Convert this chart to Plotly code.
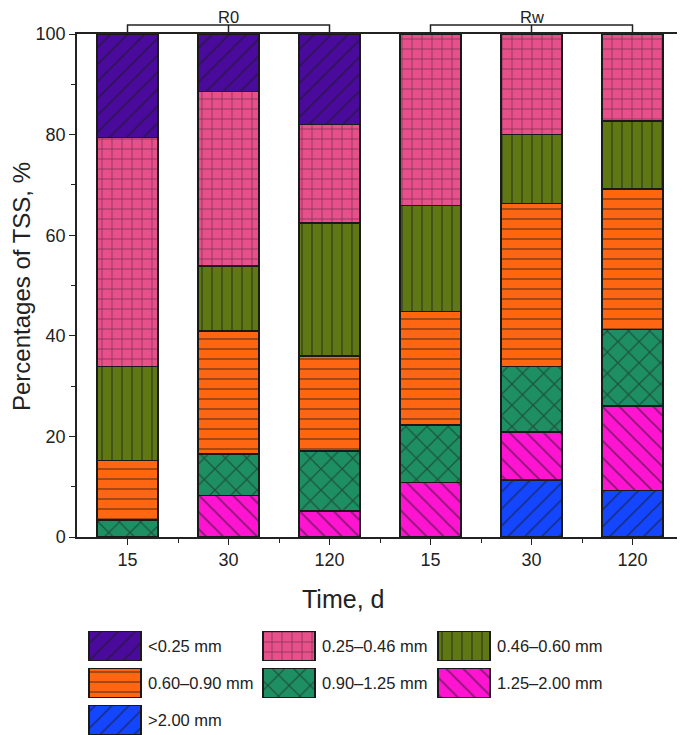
import plotly.graph_objects as go

# bars: R0 15/30/120, Rw 15/30/120
time_labels = ["15", "30", "120", "15", "30", "120"]
groups = ["R0", "Rw"]

# segment percentages per size class (bottom -> top of stack)
gt_200 = [0, 0, 0, 0, 11.3, 9.2]
s125_200 = [0, 8.3, 5.2, 10.8, 9.6, 16.8]
s090_125 = [3.4, 8.2, 11.9, 11.5, 13.0, 15.3]
s060_090 = [11.8, 24.5, 18.9, 22.5, 32.4, 27.9]
s046_060 = [18.7, 12.9, 26.4, 21.1, 13.7, 13.5]
s025_046 = [45.5, 34.7, 19.6, 34.1, 20.0, 17.3]
lt_025 = [20.6, 11.3, 17.9, 0, 0, 0]

classes = [
    # name, values, color, pattern shape, pattern size
    (">2.00 mm", gt_200, "#1446FF", "/", 12),
    ("1.25\u20132.00 mm", s125_200, "#FF14D2", "\\", 12),
    ("0.90\u20131.25 mm", s090_125, "#1E8F63", "x", 15),
    ("0.60\u20130.90 mm", s060_090, "#FF6611", "-", 10),
    ("0.46\u20130.60 mm", s046_060, "#5F7814", "|", 10),
    ("0.25\u20130.46 mm", s025_046, "#E8508C", "+", 10),
    ("<0.25 mm", lt_025, "#4A0A9C", "/", 12),
]
# legend order, row by row
legend_order = ["<0.25 mm", "0.25\u20130.46 mm", "0.46\u20130.60 mm",
                "0.60\u20130.90 mm", "0.90\u20131.25 mm", "1.25\u20132.00 mm",
                ">2.00 mm"]

# page has an 8px body margin, so the figure is a bit smaller than the window
OFF = 8
W, H = 685 - OFF, 735 - OFF
ml, mr, mt, mb = 77 - OFF, 2, 34 - OFF, 0
ph = H - mt - mb
pw = W - ml - mr
y_bottom = 537 - OFF          # zero line of the main axis (figure px)
main_dom = (H - y_bottom) / ph

def fx(sx):   # screen x -> figure px
    return sx - OFF

def fy(sy):
    return sy - OFF

def py(sy):   # screen y -> paper fraction
    return (H - mb - fy(sy)) / ph

def px(sx):
    return (fx(sx) - ml) / pw

def pat(shape, size, color):
    return dict(shape=shape, size=size, solidity=0.16, fgcolor="#1a1a1a",
                bgcolor=color, fillmode="overlay")

fig = go.Figure()
x_pos = list(range(len(time_labels)))
for name, vals, color, shape, size in classes:
    fig.add_trace(go.Bar(
        x=x_pos, y=vals, name=name, width=0.6,
        marker=dict(color=color, pattern=pat(shape, size, color),
                    line=dict(color="#1a1a1a", width=1.5)),
        showlegend=False, xaxis="x", yaxis="y"))

# legend drawn as swatches on a pixel-scaled helper axis
sw_w, sw_h = 52, 29
col_x = [89, 263, 438]
row_y = [646, 683, 720]
style = {c[0]: c for c in classes}
annotations = []
for i, name in enumerate(legend_order):
    _, _, color, shape, size = style[name]
    cx, ry = fx(col_x[i % 3]), fy(row_y[i // 3])
    fig.add_trace(go.Bar(
        y=[ry], x=[sw_w], base=[cx], width=[sw_h], orientation="h",
        marker=dict(color=color, pattern=pat(shape, size, color),
                    line=dict(color="#1a1a1a", width=1.5)),
        showlegend=False, hoverinfo="skip", xaxis="x2", yaxis="y2"))
    annotations.append(dict(x=cx + sw_w + 5, y=ry, xref="x2", yref="y2",
                            text=name, showarrow=False, xanchor="left",
                            font=dict(size=16.5, color="#222")))

# group brackets above the plot
br_y = 25
shapes = []
for g, (a, b) in zip(groups, [(0, 2), (3, 5)]):
    m = (a + b) / 2
    path = (f"M {a},{py(34)} L {a},{py(br_y)} L {b},{py(br_y)} L {b},{py(34)} "
            f"M {m},{py(br_y)} L {m},{py(34)}")
    shapes.append(dict(type="path", path=path, xref="x", yref="paper",
                       line=dict(color="#222", width=1.5)))
    annotations.append(dict(x=m, y=py(7), xref="x", yref="paper", text=g,
                            showarrow=False, yanchor="top", borderpad=0,
                            font=dict(size=16.5, color="#222")))

annotations.append(dict(x=fx(343), y=fy(599), xref="x2", yref="y2",
                        text="Time, d", showarrow=False,
                        font=dict(size=25, color="#222")))
annotations.append(dict(x=px(21), y=py(287), xref="paper", yref="paper",
                        text="Percentages of TSS, %", showarrow=False,
                        textangle=-90, xanchor="center", borderpad=0,
                        font=dict(size=24, color="#222")))

fig.update_layout(
    width=W, height=H,
    margin=dict(l=ml, r=mr, t=mt, b=mb, autoexpand=False),
    plot_bgcolor="white", paper_bgcolor="white",
    barmode="stack",
    font=dict(family="Liberation Sans, Arial, sans-serif", size=18, color="#222"),
    xaxis=dict(domain=[0, 1], range=[-0.5, 5.5], anchor="y", automargin=False,
               tickvals=x_pos, ticktext=time_labels,
               ticks="outside", ticklen=6, tickcolor="#222",
               minor=dict(tickvals=[0.5, 1.5, 2.5, 3.5, 4.5], ticks="outside",
                          ticklen=4, tickcolor="#222"),
               showline=True, linecolor="#222", linewidth=1.5, mirror=True,
               showgrid=False, zeroline=False, fixedrange=True),
    yaxis=dict(domain=[main_dom, 1], range=[0, 100], anchor="x", automargin=False,
               tickvals=[0, 20, 40, 60, 80, 100],
               ticks="outside", ticklen=6, tickcolor="#222",
               minor=dict(tickvals=[10, 30, 50, 70, 90], ticks="outside",
                          ticklen=4, tickcolor="#222"),
               showline=True, linecolor="#222", linewidth=1.5, mirror=True,
               showgrid=False, zeroline=False),
    xaxis2=dict(domain=[0, 1], range=[ml, W - mr], anchor="y2", automargin=False,
                visible=False, fixedrange=True),
    yaxis2=dict(domain=[0, main_dom], range=[H - mb, y_bottom], anchor="x2",
                automargin=False, visible=False, fixedrange=True),
    shapes=shapes,
    annotations=annotations,
)

fig.write_html("out.html")
